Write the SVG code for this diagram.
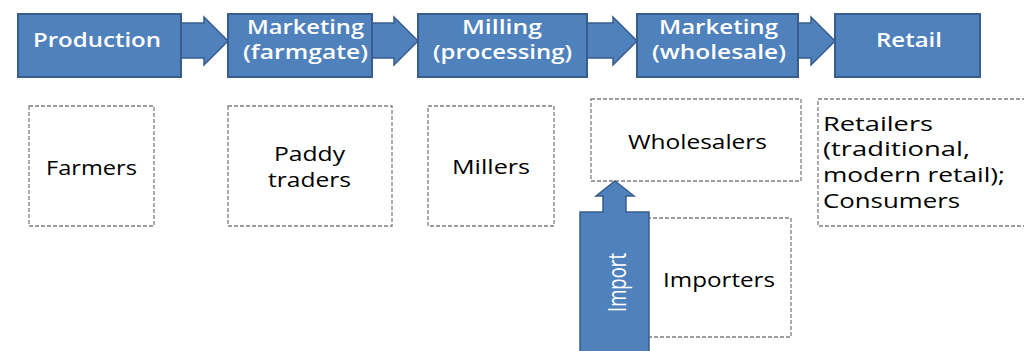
<svg xmlns="http://www.w3.org/2000/svg" width="1024" height="351" viewBox="0 0 1024 351">
<style>
.stage{fill:#4f81bd;stroke:#385d8a;stroke-width:2}
.conn{fill:#4f81bd;stroke:#385d8a;stroke-width:1.5;stroke-linejoin:miter}
.actor{fill:#fff;stroke:#7f7f7f;stroke-width:1.3;stroke-dasharray:4 2}
.tw{font-family:"Open Sans","Liberation Sans",sans-serif;font-size:19.5px;font-weight:600;fill:#fff}
.tb{font-family:"Open Sans","Liberation Sans",sans-serif;font-size:19.5px;font-weight:400;fill:#000}
.ti{font-family:"Open Sans","Liberation Sans",sans-serif;font-size:19.5px;font-weight:400;fill:#fff}
</style>
<rect width="1024" height="351" fill="#fff"/>
<g id="connectors">
<polygon class="conn" points="179,23 204,23 204,17 228,41 204,65 204,58 179,58"/>
<polygon class="conn" points="370,23 394,23 394,17 418,41 394,65 394,58 370,58"/>
<polygon class="conn" points="585,23 613,23 613,17 637,41 613,65 613,58 585,58"/>
<polygon class="conn" points="796,23 811,23 811,17 835,41 811,65 811,58 796,58"/>
</g>
<g id="production"><rect class="stage" x="18" y="14" width="163" height="63"/><text class="tw" x="33" y="47" textLength="128" lengthAdjust="spacingAndGlyphs">Production</text></g>
<g id="marketing-farmgate"><rect class="stage" x="228" y="14" width="144" height="63"/><text class="tw" x="247" y="34" textLength="117" lengthAdjust="spacingAndGlyphs">Marketing</text><text class="tw" x="243" y="59" textLength="125" lengthAdjust="spacingAndGlyphs">(farmgate)</text></g>
<g id="milling"><rect class="stage" x="418" y="14" width="169" height="63"/><text class="tw" x="462" y="34" textLength="80" lengthAdjust="spacingAndGlyphs">Milling</text><text class="tw" x="433" y="59" textLength="139" lengthAdjust="spacingAndGlyphs">(processing)</text></g>
<g id="marketing-wholesale"><rect class="stage" x="637" y="14" width="161" height="63"/><text class="tw" x="659" y="34" textLength="119" lengthAdjust="spacingAndGlyphs">Marketing</text><text class="tw" x="652" y="59" textLength="134" lengthAdjust="spacingAndGlyphs">(wholesale)</text></g>
<g id="retail"><rect class="stage" x="835" y="14" width="145" height="63"/><text class="tw" x="876" y="47" textLength="66" lengthAdjust="spacingAndGlyphs">Retail</text></g>
<g id="farmers"><rect class="actor" x="29" y="106" width="125" height="120"/><text class="tb" x="46" y="175" textLength="91" lengthAdjust="spacingAndGlyphs">Farmers</text></g>
<g id="paddy-traders"><rect class="actor" x="228" y="106" width="164" height="120"/><text class="tb" x="274" y="161" textLength="71" lengthAdjust="spacingAndGlyphs">Paddy</text><text class="tb" x="268" y="187" textLength="83" lengthAdjust="spacingAndGlyphs">traders</text></g>
<g id="millers"><rect class="actor" x="428" y="106" width="126" height="120"/><text class="tb" x="452" y="174" textLength="78" lengthAdjust="spacingAndGlyphs">Millers</text></g>
<g id="wholesalers"><rect class="actor" x="591" y="99" width="210" height="82"/><text class="tb" x="628" y="149" textLength="139" lengthAdjust="spacingAndGlyphs">Wholesalers</text></g>
<g id="retailers"><rect class="actor" x="818" y="99" width="215" height="127"/><text class="tb" x="823" y="131" textLength="110" lengthAdjust="spacingAndGlyphs">Retailers</text><text class="tb" x="823" y="156" textLength="147" lengthAdjust="spacingAndGlyphs">(traditional,</text><text class="tb" x="823" y="182" textLength="182" lengthAdjust="spacingAndGlyphs">modern retail);</text><text class="tb" x="823" y="208" textLength="137" lengthAdjust="spacingAndGlyphs">Consumers</text></g>
<g id="importers"><rect class="actor" x="647" y="218" width="144" height="119"/><text class="tb" x="663" y="287" textLength="112" lengthAdjust="spacingAndGlyphs">Importers</text></g>
<g id="import"><polygon class="conn" points="615,181 634,196 626,196 626,212 649,212 649,356 580,356 580,212 603,212 603,196 596,196"/><text class="ti" transform="translate(626,282.5) rotate(-90) scale(1,1.3)" x="-29.5" y="0" textLength="59" lengthAdjust="spacingAndGlyphs">Import</text></g>
</svg>
